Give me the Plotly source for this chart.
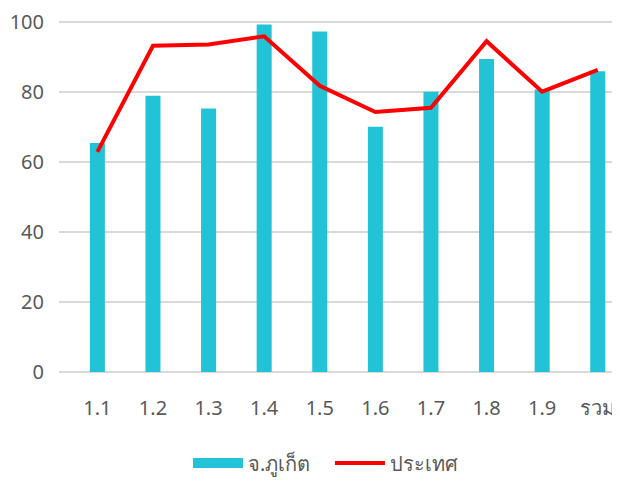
import plotly.graph_objects as go

categories = ["1.1", "1.2", "1.3", "1.4", "1.5", "1.6", "1.7", "1.8", "1.9", "รวม"]
phuket = [65.4, 78.9, 75.3, 99.3, 97.3, 70.1, 80.1, 89.4, 80.7, 85.9]
country = [62.9, 93.2, 93.6, 95.9, 81.8, 74.3, 75.5, 94.5, 80.1, 86.3]
y_ticks = [0, 20, 40, 60, 80, 100]

BAR_COLOR = "#22C3D6"
TEXT_COLOR = "#595959"

fig = go.Figure()
fig.add_trace(go.Bar(x=categories, y=phuket, name="จ.ภูเก็ต", showlegend=False,
                     marker=dict(color=BAR_COLOR, line=dict(width=0)), width=0.27))
# legend proxy giving the wide rectangular swatch
fig.add_trace(go.Scatter(x=[categories[0]], y=[None], name="จ.ภูเก็ต", mode="lines",
                         line=dict(color=BAR_COLOR, width=15), hoverinfo="skip"))
fig.add_trace(go.Scatter(x=categories, y=country, name="ประเทศ", mode="lines",
                         line=dict(color="#FF0000", width=4)))

fig.update_layout(
    width=612, height=476,
    margin=dict(l=51, r=0, t=7, b=112),
    plot_bgcolor="white", paper_bgcolor="white",
    font=dict(family="Noto Sans, DejaVu Sans, sans-serif", size=20, color=TEXT_COLOR),
    showlegend=True,
    legend=dict(orientation="h", x=0.483, xanchor="center", y=-0.2, yanchor="top",
                itemwidth=50, entrywidth=77, entrywidthmode="pixels",
                font=dict(size=20, color=TEXT_COLOR)),
    xaxis=dict(range=[-0.69, 9.40], showgrid=False, ticks="", showline=False,
               automargin=False, ticklabelstandoff=22,
               tickfont=dict(size=20, color=TEXT_COLOR)),
    yaxis=dict(range=[0, 102], tickvals=y_ticks, showgrid=True, gridcolor="#D9D9D9",
               gridwidth=1.5, zeroline=True, zerolinecolor="#D9D9D9", zerolinewidth=1.5,
               showline=False, ticks="", automargin=False, ticklabelstandoff=14,
               tickfont=dict(size=20, color=TEXT_COLOR)),
)

fig.write_html("out.html")
